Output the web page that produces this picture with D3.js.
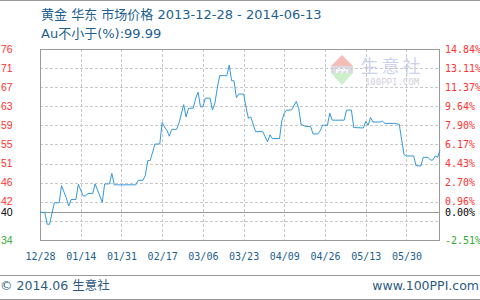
<!DOCTYPE html>
<html>
<head>
<meta charset="utf-8">
<script src="https://cdn.jsdelivr.net/npm/d3@7"></script>
<style>
  body { margin: 0; background: #fff; }
  svg { display: block; }
</style>
</head>
<body>
<div id="chart"></div>
<script>
/* DATA */
const titleText = "黄金 华东 市场价格 2013-12-28 - 2014-06-13";
const subTitle = "Au不小于(%):99.99";
const basePrice = 240;

const dates = [
  "2013-12-28","2013-12-30","2013-12-31","2014-01-01","2014-01-03","2014-01-05","2014-01-06","2014-01-08",
  "2014-01-09","2014-01-10","2014-01-12","2014-01-13","2014-01-15","2014-01-16","2014-01-17","2014-01-19",
  "2014-01-20","2014-01-21","2014-01-23","2014-01-24","2014-01-26","2014-01-27","2014-01-28","2014-02-06",
  "2014-02-07","2014-02-09","2014-02-10","2014-02-11","2014-02-12","2014-02-14","2014-02-16","2014-02-17",
  "2014-02-18","2014-02-19","2014-02-20","2014-02-21","2014-02-23","2014-02-24","2014-02-26","2014-02-27",
  "2014-02-28","2014-03-02","2014-03-03","2014-03-04","2014-03-05","2014-03-06","2014-03-07","2014-03-09",
  "2014-03-10","2014-03-11","2014-03-12","2014-03-13","2014-03-16","2014-03-17","2014-03-18","2014-03-19",
  "2014-03-20","2014-03-21","2014-03-23","2014-03-24","2014-03-25","2014-03-26","2014-03-28","2014-03-31",
  "2014-04-02","2014-04-03","2014-04-04","2014-04-07","2014-04-08","2014-04-09","2014-04-10","2014-04-12",
  "2014-04-14","2014-04-15","2014-04-16","2014-04-18","2014-04-20","2014-04-21","2014-04-23","2014-04-24",
  "2014-04-25","2014-04-27","2014-04-28","2014-04-29","2014-05-04","2014-05-05","2014-05-07","2014-05-08",
  "2014-05-12","2014-05-13","2014-05-14","2014-05-15","2014-05-16","2014-05-19","2014-05-20","2014-05-21",
  "2014-05-25","2014-05-27","2014-05-28","2014-05-29","2014-05-30","2014-06-02","2014-06-03","2014-06-05",
  "2014-06-06","2014-06-08","2014-06-09","2014-06-10","2014-06-11","2014-06-12","2014-06-13"
];

const prices = [
  240.0,240.0,237.4,237.4,242.1,242.1,245.8,243.1,
  241.4,242.8,242.8,246.1,243.6,243.6,244.1,244.1,
  246.2,244.9,242.2,246.2,246.2,248.5,246.0,246.0,
  247.0,247.0,248.1,251.3,251.3,254.9,254.9,259.6,
  258.6,257.9,256.6,258.1,258.1,259.4,263.5,260.8,
  262.7,262.7,264.9,266.2,263.0,263.0,264.9,264.9,
  262.3,263.8,267.0,269.8,269.8,272.1,268.7,268.7,
  265.0,265.8,265.8,263.0,260.5,260.8,257.6,257.6,
  255.4,256.9,256.1,256.1,260.1,261.6,262.3,262.3,
  264.2,262.7,259.2,258.7,258.7,257.1,257.1,257.8,
  259.0,259.0,261.6,260.1,260.1,262.3,262.3,258.5,
  258.4,259.8,259.0,260.7,259.7,259.7,259.9,259.4,
  259.4,259.2,255.8,252.6,252.3,252.3,250.2,250.1,
  252.0,252.0,251.4,251.4,252.3,252.0,253.6
];

// axis ticks (percent change vs base) and their printed labels
const tickPct = [14.84, 13.11, 11.37, 9.64, 7.90, 6.17, 4.43, 2.70, 0.96, 0.00, -2.51];
const leftLabels = ["76", "71", "67", "63", "59", "55", "51", "46", "42", "40", "34"];
const rightLabels = ["14.84%", "13.11%", "11.37%", "9.64%", "7.90%", "6.17%", "4.43%", "2.70%", "0.96%", "0.00%", "-2.51%"];
const gridPct = [13.11, 11.37, 9.64, 7.90, 6.17, 4.43, 2.70, 0.96, -0.78];

const xTickDates = ["2013-12-28","2014-01-14","2014-01-31","2014-02-17","2014-03-06","2014-03-23","2014-04-09","2014-04-26","2014-05-13","2014-05-30"];

/* LAYOUT */
const width = 480, height = 300;
const margin = { top: 49, bottom: 60, left: 40, right: 40 };
const parse = d3.timeParse("%Y-%m-%d");

const data = dates.map((d, i) => ({ date: parse(d), pct: (prices[i] / basePrice - 1) * 100 }));

const svg = d3.select("#chart").append("svg")
  .attr("width", width)
  .attr("height", height);

const xScale = d3.scaleTime()
  .domain([parse("2013-12-28"), parse("2014-06-13")])
  .range([margin.left, width - margin.right]);

const yScale = d3.scaleLinear()
  .domain([-2.51, 14.84])
  .range([height - margin.bottom, margin.top]);

const colorOf = v => v > 0 ? "#ff3333" : (v < 0 ? "#33aa33" : "#000");

// frame lines top / footer
svg.append("line").attr("x1", 0).attr("x2", width).attr("y1", 0.5).attr("y2", 0.5).attr("stroke", "#999");
svg.append("line").attr("x1", 0).attr("x2", width).attr("y1", 275.5).attr("y2", 275.5).attr("stroke", "#999");
svg.append("line").attr("x1", 0).attr("x2", width).attr("y1", 299.5).attr("y2", 299.5).attr("stroke", "#999");

// titles
svg.append("text").attr("x", 41).attr("y", 19)
  .attr("font-family", "DejaVu Sans, 'Noto Sans CJK SC', sans-serif").attr("font-size", 13)
  .attr("fill", "#1d5f8f").text(titleText);
svg.append("text").attr("x", 41).attr("y", 38)
  .attr("font-family", "DejaVu Sans, 'Noto Sans CJK SC', sans-serif").attr("font-size", 13)
  .attr("fill", "#1d5f8f").text(subTitle);

// watermark
const wm = svg.append("g").attr("class", "watermark");
wm.append("path").attr("d", "M331,66 L342,55 L353,66 Z").attr("fill", "#f6bcb8");
wm.append("rect").attr("x", 331).attr("y", 66).attr("width", 22).attr("height", 7).attr("fill", "#dadae2");
wm.append("text").attr("x", 342).attr("y", 72.5).attr("text-anchor", "middle")
  .attr("font-family", "DejaVu Sans").attr("font-size", 7).attr("font-weight", "bold")
  .attr("fill", "#fff").text("PPI");
wm.append("path").attr("d", "M331,73 L353,73 L342,85 Z").attr("fill", "#ccefcc");
wm.append("text").attr("x", 392).attr("y", 73).attr("text-anchor", "middle")
  .attr("font-family", "'Noto Sans CJK SC', sans-serif").attr("font-size", 18)
  .attr("letter-spacing", 3)
  .attr("fill", "#ccd3ef").text("生意社");
wm.append("text").attr("x", 392).attr("y", 84.5).attr("text-anchor", "middle")
  .attr("font-family", "DejaVu Sans Mono, monospace").attr("font-size", 9)
  .attr("fill", "#d0d0da").text("100PPI.COM");

// grid
svg.append("g").selectAll("line.hgrid")
  .data(gridPct)
  .join("line")
  .attr("class", "hgrid")
  .attr("x1", margin.left).attr("x2", width - margin.right)
  .attr("y1", d => Math.round(yScale(d)) + 0.5).attr("y2", d => Math.round(yScale(d)) + 0.5)
  .attr("stroke", "#c8c8c8").attr("stroke-dasharray", "3,2");

svg.append("g").selectAll("line.vgrid")
  .data(xTickDates.slice(1))
  .join("line")
  .attr("class", "vgrid")
  .attr("x1", d => Math.round(xScale(parse(d))) + 0.5).attr("x2", d => Math.round(xScale(parse(d))) + 0.5)
  .attr("y1", margin.top).attr("y2", height - margin.bottom)
  .attr("stroke", "#c8c8c8").attr("stroke-dasharray", "3,2");

// base line (0%)
svg.append("line")
  .attr("x1", margin.left).attr("x2", width - margin.right)
  .attr("y1", Math.round(yScale(0)) + 0.5).attr("y2", Math.round(yScale(0)) + 0.5)
  .attr("stroke", "#999");

// plot border
svg.append("rect")
  .attr("x", margin.left + 0.5).attr("y", margin.top + 0.5)
  .attr("width", width - margin.left - margin.right - 1)
  .attr("height", height - margin.top - margin.bottom)
  .attr("fill", "none").attr("stroke", "#999");

// left labels
svg.append("g").selectAll("text")
  .data(tickPct)
  .join("text")
  .attr("x", 1)
  .attr("y", d => yScale(d))
  .attr("dy", "0.35em")
  .attr("font-family", "Liberation Sans, Arial, sans-serif").attr("font-size", 10.5)
  .attr("fill", d => colorOf(d))
  .text((d, i) => leftLabels[i]);

// right labels
svg.append("g").selectAll("text")
  .data(tickPct)
  .join("text")
  .attr("x", 445)
  .attr("y", d => yScale(d))
  .attr("dy", "0.35em")
  .attr("font-family", "DejaVu Sans Mono, monospace").attr("font-size", 10)
  .attr("fill", d => colorOf(d))
  .text((d, i) => rightLabels[i]);

// x axis labels
const xAxis = d3.axisBottom(xScale)
  .tickValues(xTickDates.map(parse))
  .tickFormat(d3.timeFormat("%m/%d"))
  .tickSize(0)
  .tickPadding(0);

svg.append("g")
  .attr("transform", `translate(0,${height - margin.bottom + 13})`)
  .call(xAxis)
  .call(g => g.select(".domain").remove())
  .selectAll("text")
  .attr("font-family", "DejaVu Sans Mono, monospace")
  .attr("font-size", 10)
  .attr("fill", "#1d5f8f");

// price line
const lineFunc = d3.line()
  .x(d => xScale(d.date))
  .y(d => yScale(d.pct));

svg.append("path")
  .datum(data)
  .attr("fill", "none")
  .attr("stroke", "#3399dd")
  .attr("stroke-width", 1)
  .attr("d", lineFunc);

// footer
svg.append("text").attr("x", 0).attr("y", 290)
  .attr("font-family", "DejaVu Sans, 'Noto Sans CJK SC', sans-serif").attr("font-size", 12.5)
  .attr("fill", "#2d5a80").text("© 2014.06 生意社");
svg.append("text").attr("x", 479).attr("y", 290).attr("text-anchor", "end")
  .attr("font-family", "DejaVu Sans, sans-serif").attr("font-size", 12.5)
  .attr("fill", "#2d5a80").text("www.100PPI.com");
</script>
</body>
</html>
